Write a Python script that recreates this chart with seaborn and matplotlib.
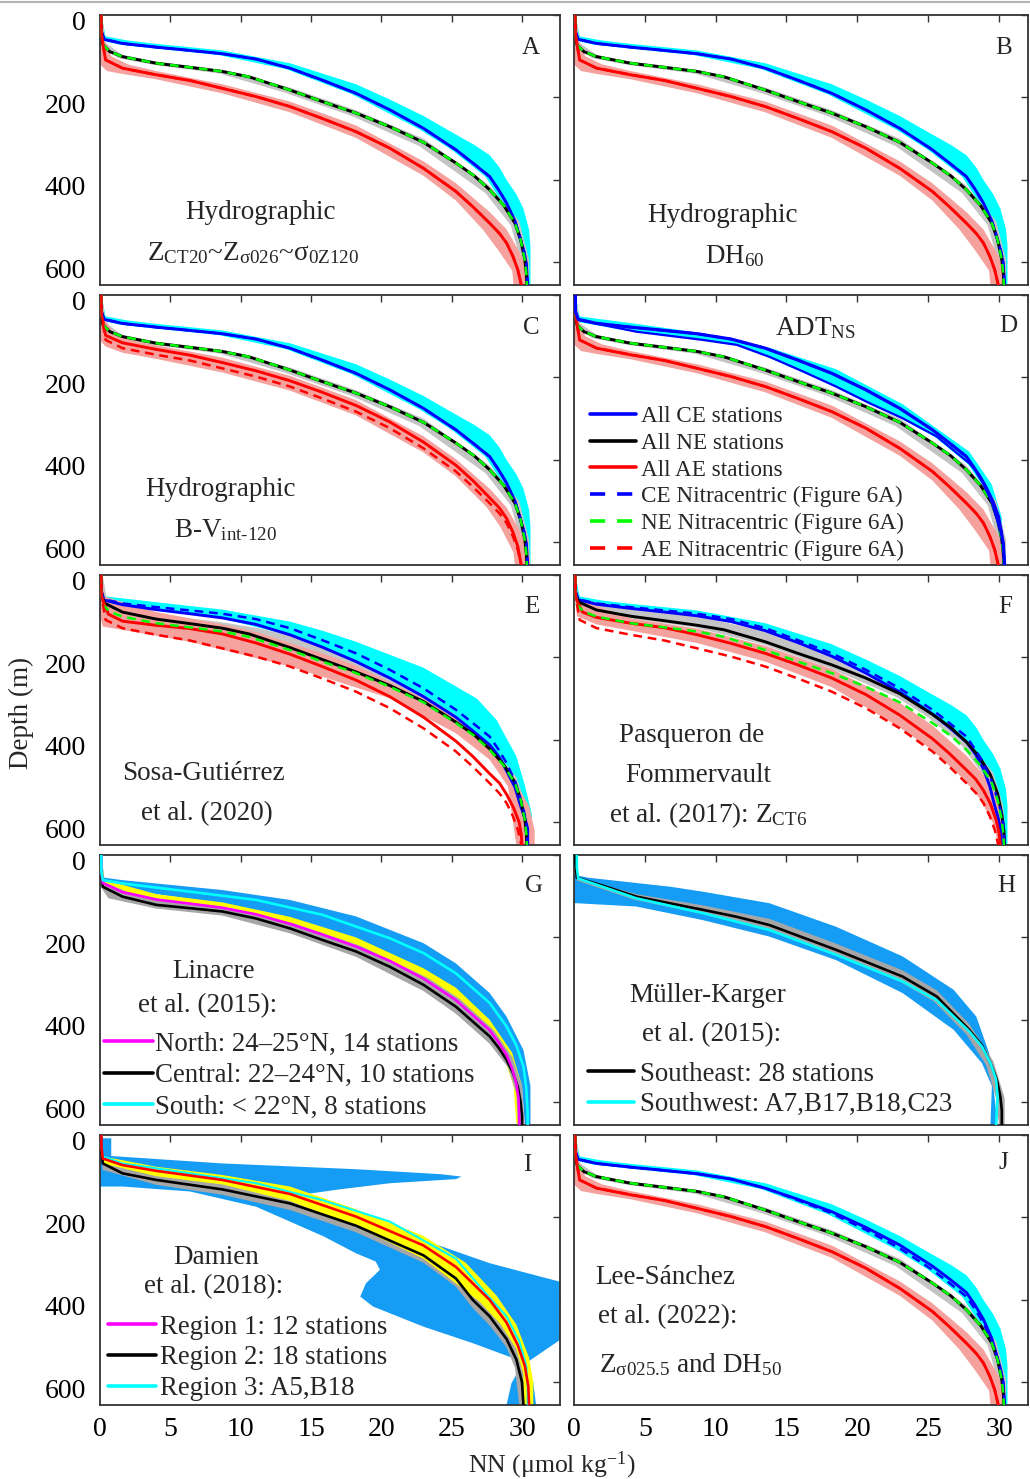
import matplotlib
matplotlib.use('Agg')
import matplotlib.pyplot as plt
import matplotlib.transforms as mtransforms
import seaborn as sns
from matplotlib.lines import Line2D

# ---------------- reference (Figure 6A) eddy-composite profiles: NN (umol/kg) vs depth (m)
CE_NN = [0.1, 0.1, 0.3, 1.6, 4.0, 6.4, 8.7, 11.1, 13.5, 15.8, 18.2, 20.6, 23.0, 25.3, 26.5, 27.7, 28.3, 28.9, 29.5, 29.9, 30.15, 30.3, 30.4]
CE_Z = [0, 40, 59, 69, 78, 86, 94, 107, 129, 158, 190, 230, 275, 327, 359, 392, 422, 456, 500, 545, 575, 602, 655]
NE_NN = [0.1, 0.1, 0.2, 0.7, 1.6, 4.0, 6.4, 8.7, 10.6, 13.5, 15.8, 18.2, 20.6, 23.0, 25.3, 26.6, 27.7, 28.7, 29.5, 29.9, 30.2, 30.3, 30.35]
NE_Z = [0, 40, 72, 89, 101, 117, 127, 137, 150, 182, 210, 238, 271, 309, 359, 390, 424, 462, 505, 545, 594, 625, 655]
AE_NN = [0.1, 0.1, 0.2, 0.4, 1.6, 4.0, 6.4, 8.7, 11.1, 13.5, 15.8, 18.2, 20.6, 23.0, 25.3, 26.5, 27.7, 28.4, 28.9, 29.35, 29.7, 29.85, 29.95]
AE_Z = [0, 40, 69, 109, 129, 145, 159, 178, 198, 222, 251, 283, 323, 372, 428, 465, 505, 530, 553, 585, 618, 640, 655]

# envelopes (polygons) for panels A, B, J
CYAN_A_NN = [0.1, 0.4, 2.0, 4.0, 8.7, 13.5, 18.2, 20.6, 23.0, 25.3, 26.6, 27.7, 28.4, 28.9, 29.6, 30.1, 30.5, 30.6, 30.6,
             30.1, 30.0, 29.7, 29.3, 28.6, 27.4, 25.0, 22.7, 17.9, 13.2, 8.4, 3.8, 1.4, 0.1, 0.0, 0.0]
CYAN_A_Z = [0, 52, 62, 70, 86, 117, 168, 205, 245, 290, 315, 340, 370, 400, 435, 470, 520, 560, 655,
            655, 575, 545, 500, 456, 392, 327, 277, 192, 131, 97, 81, 72, 62, 40, 0]
GRAY_A_NN = [0.15, 0.4, 1.6, 4.0, 8.7, 13.5, 18.2, 23.0, 27.7, 29.8, 30.5, 30.5, 30.1, 29.9, 29.2, 27.4, 22.7, 17.9, 13.2, 8.5, 3.8, 1.3, 0.1, 0.05]
GRAY_A_Z = [0, 68, 97, 113, 133, 176, 231, 300, 414, 500, 594, 655, 655, 594, 510, 432, 318, 245, 189, 142, 121, 105, 77, 0]
SALMON_A_NN = [0.15, 0.3, 0.8, 2.0, 4.0, 8.7, 13.5, 18.2, 23.0, 25.3, 27.7, 28.9, 29.9, 30.4, 30.5,
               29.4, 29.3, 28.3, 27.2, 25.3, 23.0, 18.2, 13.5, 8.7, 4.0, 1.6, 0.5, 0.0, 0.0]
SALMON_A_Z = [0, 60, 100, 120, 136, 168, 210, 268, 355, 408, 478, 520, 580, 620, 655,
              655, 620, 570, 520, 450, 390, 298, 236, 190, 156, 143, 136, 120, 0]

# panel C
C_AE_Z = [0, 40, 62, 98, 116, 132, 146, 164, 184, 208, 236, 268, 308, 357, 413, 450, 492, 517, 542, 575, 610, 638, 655]
SALMON_C_NN = [0.15, 0.3, 1.0, 2.5, 4.0, 8.7, 13.5, 18.2, 23.0, 25.3, 27.7, 28.9, 29.9, 30.5, 30.6,
               29.5, 29.4, 28.5, 27.5, 25.3, 23.0, 18.2, 13.5, 8.7, 4.0, 1.6, 0.4, 0.0, 0.0]
SALMON_C_Z = [0, 55, 95, 112, 122, 152, 196, 255, 343, 398, 470, 515, 575, 620, 655,
              655, 625, 565, 515, 440, 382, 292, 232, 188, 155, 140, 125, 110, 0]

# panel D
D_CE_NN = [0.1, 0.1, 0.2, 4.4, 9.1, 11.5, 13.8, 16.2, 18.5, 20.9, 23.2, 25.6, 27.9, 28.6, 29.1, 29.6, 30.0, 30.2, 30.3, 30.3]
D_CE_Z = [0, 40, 60, 89, 109, 121, 150, 186, 222, 263, 299, 343, 408, 435, 465, 500, 537, 575, 618, 655]
CYAN_D_NN = [0.1, 0.4, 4.4, 9.1, 13.8, 18.5, 23.2, 27.9, 29.5, 30.2, 30.4, 30.1, 29.9, 29.0, 27.8, 25.5, 23.1, 20.8, 18.4, 16.1, 13.7, 11.4, 9.0, 4.3, 0.2, 0.0, 0.0]
CYAN_D_Z = [0, 52, 70, 93, 128, 180, 265, 380, 460, 540, 655, 655, 560, 470, 410, 345, 300, 264, 223, 187, 151, 122, 110, 90, 65, 40, 0]

# panel E
E_CE_NN = [0.1, 0.1, 0.2, 1.6, 4.0, 6.4, 8.7, 11.1, 13.5, 15.8, 18.2, 20.6, 23.0, 25.3, 26.5, 27.7, 28.35, 28.9, 29.5, 29.9, 30.2, 30.4, 30.4]
E_CE_Z = [0, 40, 60, 72, 84, 94, 104, 120, 145, 175, 210, 250, 295, 345, 378, 412, 440, 475, 515, 560, 590, 615, 655]
CYAN_E_NN = [0.1, 0.4, 4.0, 8.7, 13.5, 15.8, 18.2, 23.0, 26.8, 28.2, 29.6, 30.2, 30.7, 30.7,
             30.1, 29.7, 28.6, 27.4, 25.1, 22.8, 18.0, 13.3, 8.5, 3.8, 1.4, 0.1, 0.0, 0.0]
CYAN_E_Z = [0, 52, 66, 84, 113, 135, 162, 225, 300, 352, 440, 510, 580, 655,
            655, 560, 475, 412, 345, 295, 210, 145, 104, 84, 72, 62, 40, 0]
E_NE_NN = [0.1, 0.1, 0.3, 1.6, 4.0, 6.4, 8.7, 10.6, 13.5, 15.8, 18.2, 20.6, 23.0, 25.3, 26.6, 27.7, 28.7, 29.5, 29.9, 30.2, 30.3, 30.35]
E_NE_Z = [0, 40, 68, 90, 107, 118, 129, 143, 176, 205, 235, 268, 307, 357, 388, 422, 460, 503, 545, 592, 625, 655]
GRAY_E_NN = [0.2, 0.5, 4.0, 8.7, 11.1, 13.5, 18.2, 23.0, 25.3, 27.7, 29.6, 30.5, 30.5,
             30.0, 29.9, 29.2, 27.4, 25.0, 22.7, 18.0, 15.6, 13.3, 8.5, 3.8, 1.4, 0.1, 0.0]
GRAY_E_Z = [0, 62, 95, 115, 128, 146, 210, 290, 340, 410, 490, 580, 655,
            655, 600, 515, 435, 368, 318, 245, 214, 185, 138, 115, 98, 75, 0]
E_AE_NN = [0.1, 0.1, 0.2, 0.6, 1.6, 4.0, 6.4, 8.7, 11.1, 13.5, 15.8, 18.2, 20.6, 23.0, 25.3, 26.5, 27.7, 28.4, 28.9, 29.4, 29.8, 29.95, 30.0]
E_AE_Z = [0, 40, 62, 95, 112, 122, 130, 143, 165, 192, 222, 255, 295, 345, 403, 440, 482, 505, 532, 565, 600, 630, 655]
SALMON_E_NN = [0.1, 0.3, 4.0, 8.7, 11.1, 13.5, 15.8, 18.2, 23.0, 25.3, 27.7, 29.5, 30.5, 30.9, 30.9,
               29.6, 29.5, 29.0, 27.7, 25.3, 20.6, 13.5, 6.4, 0.2, 0.0, 0.0]
SALMON_E_Z = [0, 52, 90, 120, 138, 165, 190, 220, 300, 350, 420, 500, 560, 620, 655,
              655, 634, 513, 448, 384, 299, 222, 162, 125, 100, 0]

# panel F
F_CE_NN = [0.1, 0.1, 0.3, 1.6, 4.0, 6.4, 8.7, 11.1, 13.5, 15.8, 18.2, 20.6, 23.0, 25.3, 26.5, 27.7, 28.35, 28.9, 29.35, 29.7, 29.95, 30.1, 30.2]
F_CE_Z = [0, 40, 60, 71, 81, 90, 99, 113, 135, 164, 197, 238, 284, 337, 370, 405, 435, 470, 512, 560, 590, 615, 655]
F_NE_NN = [0.1, 0.1, 0.3, 1.6, 4.0, 6.4, 8.7, 10.6, 13.5, 15.8, 18.2, 20.6, 23.0, 25.3, 26.6, 27.7, 28.6, 29.4, 29.9, 30.2, 30.35, 30.4]
F_NE_Z = [0, 40, 65, 85, 100, 111, 122, 133, 162, 190, 218, 250, 288, 338, 370, 405, 440, 485, 530, 580, 620, 655]
GRAY_F_NN = [0.1, 0.3, 4.0, 8.7, 13.5, 18.2, 23.0, 25.3, 27.7, 29.6, 30.3, 30.5,
             30.1, 29.9, 29.1, 27.4, 25.0, 22.7, 18.0, 13.3, 8.5, 3.8, 1.4, 0.1, 0.0]
GRAY_F_Z = [0, 58, 82, 100, 137, 200, 287, 338, 400, 480, 560, 655,
            655, 590, 495, 415, 345, 295, 225, 168, 127, 104, 90, 70, 0]
F_AE_NN = [0.1, 0.1, 0.2, 0.6, 1.6, 4.0, 6.4, 8.7, 11.1, 13.5, 15.8, 18.2, 20.6, 23.0, 25.3, 26.5, 27.7, 28.35, 28.9, 29.4, 29.8, 30.0, 30.1]
F_AE_Z = [0, 40, 62, 90, 103, 117, 128, 145, 166, 190, 218, 250, 290, 340, 397, 433, 473, 495, 522, 555, 595, 625, 655]
SALMON_F_NN = [0.1, 0.3, 4.0, 8.7, 13.5, 18.2, 23.0, 25.3, 27.7, 29.3, 30.2, 30.5,
               29.9, 29.7, 28.7, 27.5, 25.3, 23.0, 18.2, 13.5, 8.7, 4.0, 1.6, 0.2, 0.0]
SALMON_F_Z = [0, 60, 105, 130, 172, 228, 310, 365, 438, 500, 570, 655,
              655, 610, 545, 495, 425, 370, 272, 210, 165, 135, 120, 100, 0]

# panel J (CE slightly shallower than the Figure 6A profile at 250-450 m)
J_CE_Z = [0, 40, 59, 69, 78, 86, 94, 107, 129, 156, 186, 224, 267, 318, 349, 382, 412, 447, 494, 541, 573, 601, 655]

# panel G (Linacre et al. 2015)
G_N_NN = [0.1, 0.1, 0.2, 1.6, 4.0, 6.4, 8.7, 11.1, 13.5, 15.8, 18.2, 20.6, 23.0, 25.3, 27.7, 28.35, 28.9, 29.3, 29.6, 29.75, 29.8, 29.8]
G_N_Z = [0, 40, 68, 90, 108, 118, 128, 144, 167, 193, 222, 257, 300, 352, 425, 455, 485, 518, 555, 590, 630, 655]
G_C_NN = [0.1, 0.1, 0.2, 1.6, 4.0, 6.4, 8.7, 11.1, 13.5, 15.8, 18.2, 20.6, 23.0, 25.3, 27.7, 28.35, 28.9, 29.35, 29.7, 29.9, 30.0, 30.0]
G_C_Z = [0, 40, 77, 101, 121, 129, 137, 154, 178, 206, 234, 271, 315, 368, 440, 468, 497, 528, 562, 600, 634, 655]
G_S_NN = [0.1, 0.1, 0.2, 1.6, 6.4, 11.1, 15.8, 20.6, 23.0, 25.3, 27.7, 28.9, 29.6, 30.1, 30.3, 30.4, 30.4]
G_S_Z = [0, 40, 61, 69, 89, 109, 145, 202, 238, 287, 359, 416, 462, 513, 565, 626, 655]
BLUE_G_NN = [0.1, 0.3, 1.6, 8.7, 13.5, 18.2, 23.0, 25.3, 27.7, 28.9, 30.1, 30.6, 30.6,
             30.2, 30.0, 29.0, 27.7, 25.3, 23.0, 18.2, 13.5, 8.7, 4.0, 1.6, 0.2, 0.0, 0.0]
BLUE_G_Z = [0, 55, 61, 85, 109, 149, 214, 263, 335, 392, 473, 560, 655,
            655, 560, 480, 400, 330, 280, 210, 160, 118, 95, 80, 68, 40, 0]
YELLOW_G_NN = [0.1, 0.3, 4.0, 8.7, 13.5, 18.2, 23.0, 25.3, 27.7, 29.3, 30.0, 30.0,
               29.6, 29.4, 28.7, 27.5, 25.1, 22.8, 18.0, 13.3, 8.5, 3.8, 1.4, 0.1, 0.0]
YELLOW_G_Z = [0, 60, 95, 115, 150, 200, 275, 322, 400, 480, 560, 655,
              655, 560, 490, 428, 355, 303, 225, 170, 131, 111, 93, 70, 0]
GRAY_G_NN = [0.1, 0.3, 1.9, 4.3, 9.0, 13.8, 18.5, 23.3, 25.6, 28.0, 29.3, 30.0, 30.2,
             29.7, 29.6, 29.0, 27.7, 25.3, 23.0, 18.2, 13.5, 8.7, 4.0, 0.6, 0.0, 0.0]
GRAY_G_Z = [0, 66, 89, 107, 127, 166, 220, 298, 350, 425, 490, 560, 655,
            655, 580, 515, 458, 385, 330, 247, 190, 147, 130, 105, 75, 0]

# panel H (Muller-Karger et al. 2015)
H_SE_NN = [0.1, 0.1, 0.2, 2.1, 4.4, 9.1, 11.5, 13.8, 18.5, 23.2, 25.6, 27.9, 28.8, 29.4, 29.85, 30.1, 30.2, 30.2]
H_SE_Z = [0, 20, 55, 75, 101, 133, 150, 170, 230, 295, 343, 424, 462, 505, 545, 586, 620, 655]
H_SW_NN = [0.2, 0.2, 0.3, 2.1, 4.4, 9.1, 13.8, 18.5, 23.2, 25.6, 27.9, 28.8, 29.4, 29.8, 29.9, 29.85, 29.8]
H_SW_Z = [0, 30, 57, 78, 105, 141, 182, 242, 307, 352, 428, 465, 505, 545, 586, 620, 655]
GRAY_H_NN = [0.1, 0.3, 4.4, 9.1, 13.8, 18.5, 23.2, 25.6, 27.9, 29.6, 30.4, 30.4,
             30.0, 29.8, 29.1, 27.7, 25.4, 23.0, 18.3, 13.6, 8.9, 4.2, 0.2, 0.0]
GRAY_H_Z = [0, 55, 95, 122, 155, 215, 280, 328, 410, 500, 590, 655,
            655, 590, 510, 435, 355, 307, 240, 180, 142, 108, 62, 0]
BLUE_H_NN = [0.0, 1.0, 6.8, 9.1, 13.8, 18.5, 23.2, 26.8, 28.4, 29.3, 29.6, 29.9,
             29.4, 29.5, 28.8, 26.8, 23.2, 18.5, 13.8, 9.1, 4.4, 0.2, 0.0]
BLUE_H_Z = [48, 55, 77, 89, 117, 174, 246, 327, 392, 480, 560, 655,
            655, 560, 505, 424, 335, 255, 198, 158, 125, 117, 117]

# panel I (Damien et al. 2018)
I_R1_NN = [0.1, 0.1, 0.2, 1.6, 4.0, 8.7, 13.5, 18.2, 23.0, 25.3, 27.7, 28.9, 29.7, 30.2, 30.45, 30.5]
I_R1_Z = [0, 30, 57, 73, 87, 109, 143, 198, 268, 320, 400, 455, 510, 560, 610, 655]
I_R2_NN = [0.1, 0.1, 0.2, 1.6, 4.0, 8.7, 13.5, 18.2, 23.0, 25.3, 26.5, 27.7, 28.9, 29.6, 30.0, 30.1]
I_R2_Z = [0, 30, 69, 93, 109, 132, 166, 220, 292, 348, 400, 440, 495, 545, 600, 655]
I_R3_NN = [0.1, 0.1, 0.2, 1.6, 6.4, 11.1, 15.8, 20.6, 25.3, 27.7, 28.9, 29.8, 30.3, 30.4, 30.4]
I_R3_Z = [0, 30, 52, 69, 93, 117, 158, 210, 300, 395, 440, 500, 560, 610, 655]
YELLOW_I_NN = [0.1, 0.2, 4.0, 8.7, 13.5, 18.2, 23.0, 26.0, 28.2, 29.6, 30.5, 30.8, 30.8,
               30.1, 30.1, 29.6, 28.5, 27.0, 25.3, 23.0, 18.2, 13.5, 8.7, 4.0, 0.2, 0.0]
YELLOW_I_Z = [0, 52, 77, 97, 125, 180, 245, 310, 390, 460, 540, 600, 655,
              655, 580, 520, 460, 405, 360, 300, 222, 160, 120, 100, 69, 0]
GRAY_I_NN = [0.1, 0.2, 4.0, 8.7, 13.5, 18.2, 23.0, 25.3, 27.0, 28.5, 29.6, 30.2, 30.3,
             29.8, 29.5, 28.9, 27.7, 26.5, 25.3, 23.0, 18.2, 13.5, 8.7, 4.0, 0.2, 0.0]
GRAY_I_Z = [0, 62, 92, 112, 148, 210, 285, 345, 395, 450, 510, 570, 655,
            655, 565, 515, 462, 420, 368, 310, 236, 182, 145, 121, 85, 0]
BLUE_I_NN = [0.0, 0.8, 0.8, 8.7, 18.2, 24.2, 25.7, 25.3, 20.6, 17.0, 14.7, 17.0, 18.2, 23.0, 27.7, 32.7, 32.7,
             30.3, 26.5, 23.0, 19.4, 18.5, 18.9, 19.9, 19.6, 18.2, 15.9, 11.1, 6.4, 1.6, 0.0]
BLUE_I_Z = [8, 8, 51, 69, 83, 95, 101, 107, 117, 132, 143, 190, 198, 255, 311, 356, 497,
            553, 505, 465, 416, 392, 360, 327, 307, 287, 246, 174, 137, 125, 125]
BLUE_I2_NN = [28.9, 29.25, 30.07, 30.8, 31.0]
BLUE_I2_Z = [655, 602, 553, 602, 655]

X_TICKS = [0, 5, 10, 15, 20, 25, 30]
Y_TICKS = [0, 200, 400, 600]

# ---------------- style
sns.set_style('white')
plt.rcParams['font.family'] = ['Liberation Serif', 'DejaVu Serif']
plt.rcParams['mathtext.fontset'] = 'custom'
plt.rcParams['mathtext.rm'] = 'Liberation Serif'
plt.rcParams['mathtext.it'] = 'Liberation Serif:italic'
plt.rcParams['mathtext.bf'] = 'Liberation Serif:bold'

BLUE, BLACK, RED, GREEN = '#0000FF', '#000000', '#FF0000', '#00FF00'
MAGENTA, CYANL = '#FF00FF', '#00FFFF'
C_CYAN, C_GRAY, C_SALMON = '#00FFFF', '#C4C4C4', '#F5A29E'
C_DODGER, C_YELLOW, C_GRAY2 = '#159CF4', '#FFFF00', '#A6A6A6'
DASH = (0, (3.5, 2.3))
LDASH = (0, (4.2, 3.3))
TXT = 19.5
LEG = 19.4

W, H = 1030, 1479
fig = plt.figure(figsize=(W / 100, H / 100), dpi=100)
ROW_TOP = [15, 295, 575, 855, 1135]
ROW_H = 270
COLS = [(100, 460, 32.7), (574, 454, 32.05)]


def band(ax, nn, z, color, zo=1):
    ax.fill(nn, z, color=color, lw=0, zorder=zo)


def line(ax, nn, z, color, lw=2.1, ls='-', zo=3):
    sns.lineplot(x=nn, y=z, ax=ax, sort=False, estimator=None, color=color,
                 linewidth=lw, linestyle=ls, zorder=zo)


def note(ax, x, y, s, fs=TXT):
    ax.text(x, y, s, transform=ax.transAxes, ha='center', va='center', fontsize=fs)


def eddy_panel(ax, bands, ce, ne, ae, ce_lw=2.1):
    for nn, z, c in bands:
        band(ax, nn, z, c)
    line(ax, ce[0], ce[1], BLUE, lw=ce_lw, zo=3)
    line(ax, ne[0], ne[1], BLACK, zo=3)
    line(ax, ae[0], ae[1], RED, zo=3)
    line(ax, CE_NN, CE_Z, BLUE, lw=1.8, ls=DASH, zo=4)
    line(ax, NE_NN, NE_Z, GREEN, lw=1.8, ls=DASH, zo=4)
    line(ax, AE_NN, AE_Z, RED, lw=1.8, ls=DASH, zo=4)


# thin grey page rule along the top edge, as in the source figure
fig.add_artist(Line2D([0, 1], [1 - 1.5 / H, 1 - 1.5 / H], transform=fig.transFigure, color='#B4B4B4', lw=1.5))

ylab_shift = mtransforms.ScaledTranslation(0, -0.06, fig.dpi_scale_trans)
axes = []
for i in range(10):
    r, c = divmod(i, 2)
    x0, w, xmax = COLS[c]
    ax = fig.add_axes([x0 / W, 1 - (ROW_TOP[r] + ROW_H) / H, w / W, ROW_H / H])
    ax.set_xlim(0, xmax)
    ax.set_ylim(655, 0)
    ax.set_xticks(X_TICKS)
    ax.set_yticks(Y_TICKS)
    ax.tick_params(direction='in', top=True, right=True, length=5, width=1.0,
                   labelsize=20, colors='#333333', labelcolor='black',
                   labelbottom=(r == 4), labelleft=(c == 0))
    ax.tick_params(axis='x', pad=9)
    ax.tick_params(axis='y', pad=10)
    for lab in ax.get_yticklabels():
        lab.set_transform(lab.get_transform() + ylab_shift)
    for s in ax.spines.values():
        s.set_color('#333333')
        s.set_linewidth(1.3)
    axes.append(ax)

A, B, Cc, D, E, F, G, Hh, I, J = axes
ref_bands = [(CYAN_A_NN, CYAN_A_Z, C_CYAN), (GRAY_A_NN, GRAY_A_Z, C_GRAY), (SALMON_A_NN, SALMON_A_Z, C_SALMON)]

eddy_panel(A, ref_bands, (CE_NN, CE_Z), (NE_NN, NE_Z), (AE_NN, AE_Z))
eddy_panel(B, ref_bands, (CE_NN, CE_Z), (NE_NN, NE_Z), (AE_NN, AE_Z))
eddy_panel(Cc, [(CYAN_A_NN, CYAN_A_Z, C_CYAN), (GRAY_A_NN, GRAY_A_Z, C_GRAY), (SALMON_C_NN, SALMON_C_Z, C_SALMON)],
           (CE_NN, CE_Z), (NE_NN, NE_Z), (AE_NN, C_AE_Z))
eddy_panel(D, [(CYAN_D_NN, CYAN_D_Z, C_CYAN), (GRAY_A_NN, GRAY_A_Z, C_GRAY), (SALMON_A_NN, SALMON_A_Z, C_SALMON)],
           (D_CE_NN, D_CE_Z), (NE_NN, NE_Z), (AE_NN, AE_Z), ce_lw=1.6)
line(D, CE_NN, CE_Z, BLUE, lw=2.3, zo=5)
eddy_panel(E, [(CYAN_E_NN, CYAN_E_Z, C_CYAN), (GRAY_E_NN, GRAY_E_Z, C_GRAY), (SALMON_E_NN, SALMON_E_Z, C_SALMON)],
           (E_CE_NN, E_CE_Z), (E_NE_NN, E_NE_Z), (E_AE_NN, E_AE_Z))
eddy_panel(F, [(CYAN_A_NN, CYAN_A_Z, C_CYAN), (GRAY_F_NN, GRAY_F_Z, C_GRAY), (SALMON_F_NN, SALMON_F_Z, C_SALMON)],
           (F_CE_NN, F_CE_Z), (F_NE_NN, F_NE_Z), (F_AE_NN, F_AE_Z))
eddy_panel(J, ref_bands, (CE_NN, J_CE_Z), (NE_NN, NE_Z), (AE_NN, AE_Z))

# G
band(G, BLUE_G_NN, BLUE_G_Z, C_DODGER)
band(G, YELLOW_G_NN, YELLOW_G_Z, C_YELLOW)
band(G, GRAY_G_NN, GRAY_G_Z, C_GRAY2)
line(G, G_C_NN, G_C_Z, BLACK, lw=1.9)
line(G, G_N_NN, G_N_Z, MAGENTA, lw=1.9)
line(G, G_S_NN, G_S_Z, CYANL, lw=1.9)
# H
band(Hh, BLUE_H_NN, BLUE_H_Z, C_DODGER)
band(Hh, GRAY_H_NN, GRAY_H_Z, C_GRAY2)
line(Hh, H_SE_NN, H_SE_Z, BLACK, lw=1.9)
line(Hh, H_SW_NN, H_SW_Z, CYANL, lw=1.9)
# I
band(I, BLUE_I_NN, BLUE_I_Z, C_DODGER)
band(I, BLUE_I2_NN, BLUE_I2_Z, C_DODGER)
band(I, GRAY_I_NN, GRAY_I_Z, C_GRAY2)
band(I, YELLOW_I_NN, YELLOW_I_Z, C_YELLOW)
line(I, I_R2_NN, I_R2_Z, BLACK, lw=1.9)
line(I, I_R3_NN, I_R3_Z, CYANL, lw=1.5)
line(I, I_R1_NN, I_R1_Z, RED, lw=1.9)

# ---------------- texts
for ax, L, (x, y) in zip(axes, 'ABCDEFGHIJ',
                         [(0.937, 0.878), (0.947, 0.878), (0.937, 0.878), (0.956, 0.885), (0.939, 0.881),
                          (0.949, 0.881), (0.943, 0.885), (0.952, 0.885), (0.928, 0.889), (0.945, 0.896)]):
    note(ax, x, y, L, fs=18)

note(A, 0.348, 0.270, 'Hydrographic')
note(A, 0.333, 0.119, r'Z$_{\mathregular{CT20}}$~Z$_{\mathregular{σ026}}$~σ$_{\mathregular{0Z120}}$')
note(B, 0.328, 0.256, 'Hydrographic')
note(B, 0.355, 0.107, r'DH$_{\mathregular{60}}$')
note(Cc, 0.263, 0.281, 'Hydrographic')
note(Cc, 0.272, 0.130, 'B-V$_{\\mathregular{int\u2010120}}$')
note(D, 0.531, 0.878, r'ADT$_{\mathregular{NS}}$')
note(E, 0.224, 0.263, 'Sosa-Gutiérrez')
note(E, 0.233, 0.115, 'et al. (2020)')
note(F, 0.258, 0.407, 'Pasqueron de')
note(F, 0.273, 0.259, 'Fommervault')
note(F, 0.295, 0.111, r'et al. (2017): Z$_{\mathregular{CT6}}$')
note(G, 0.246, 0.567, 'Linacre')
note(G, 0.233, 0.442, 'et al. (2015):')
note(Hh, 0.295, 0.481, 'Müller-Karger')
note(Hh, 0.304, 0.333, 'et al. (2015):')
note(I, 0.252, 0.548, 'Damien')
note(I, 0.246, 0.437, 'et al. (2018):')
note(J, 0.200, 0.474, 'Lee-Sánchez')
note(J, 0.207, 0.326, 'et al. (2022):')
note(J, 0.256, 0.148, r'Z$_{\mathregular{σ025.5}}$ and DH$_{\mathregular{50}}$')


def legend(ax, items, x, ytop, fs, hl, pad, ls):
    handles = [Line2D([], [], color=c, lw=2.6, linestyle=st) for c, st, _ in items]
    labels = [t for _, _, t in items]
    ax.legend(handles, labels, loc='upper left', bbox_to_anchor=(x, ytop), frameon=False,
              fontsize=fs, handlelength=hl, handletextpad=pad, labelspacing=ls,
              borderpad=0, borderaxespad=0)


legend(D, [(BLUE, '-', 'All CE stations'), (BLACK, '-', 'All NE stations'), (RED, '-', 'All AE stations'),
           (BLUE, LDASH, 'CE Nitracentric (Figure 6A)'),
           (GREEN, LDASH, 'NE Nitracentric (Figure 6A)'),
           (RED, LDASH, 'AE Nitracentric (Figure 6A)')], 0.035, 0.590, 16.7, 2.0, 0.2, 0.24)
legend(G, [(MAGENTA, '-', 'North: 24–25°N, 14 stations'), (BLACK, '-', 'Central: 22–24°N, 10 stations'),
           (CYANL, '-', 'South: < 22°N, 8 stations')], 0.009, 0.346, LEG, 1.8, 0.1, 0.24)
legend(Hh, [(BLACK, '-', 'Southeast: 28 stations'), (CYANL, '-', 'Southwest: A7,B17,B18,C23')],
       0.031, 0.235, LEG, 1.7, 0.22, 0.2)
legend(I, [(MAGENTA, '-', 'Region 1: 12 stations'), (BLACK, '-', 'Region 2: 18 stations'),
           (CYANL, '-', 'Region 3: A5,B18')], 0.017, 0.335, LEG, 1.8, 0.15, 0.22)

fig.text(0.021, 0.518, 'Depth (m)', rotation=90, ha='center', va='center', fontsize=19.5)
fig.text(0.536, 0.0095, r'NN (μmol kg$^{\mathregular{-1}}$)', ha='center', va='center', fontsize=18.5)

fig.savefig('out.png', dpi=100)
